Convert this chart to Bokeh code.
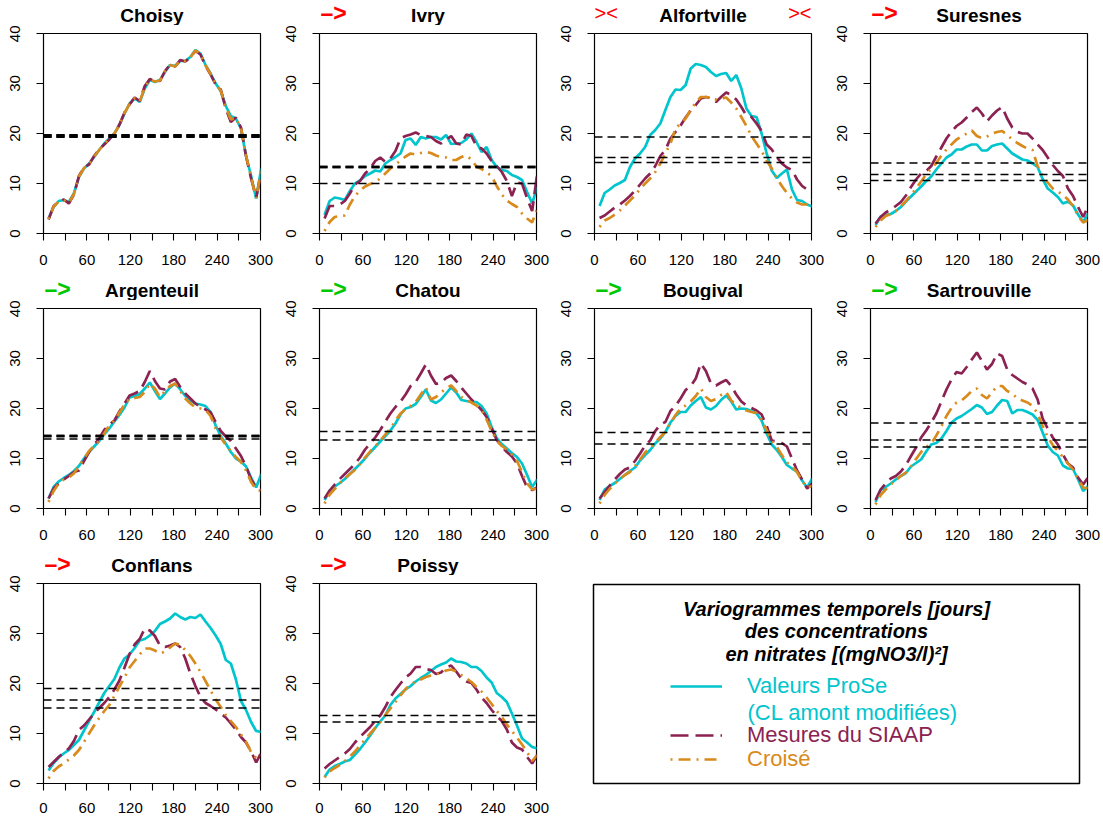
from bokeh.plotting import figure
from bokeh.layouts import row, column
from bokeh.models import Span, Label, FixedTicker, Range1d, Legend, LegendItem
from bokeh.embed import file_html
from bokeh.resources import INLINE

# ---------------- data ----------------
lags = [7, 14, 21, 28, 35, 42, 49, 56, 63, 70, 77, 84, 91, 98, 105, 112, 119, 126, 133, 140, 147,
        154, 161, 168, 175, 182, 189, 196, 203, 210, 217, 224, 231, 238, 245, 252, 259, 266, 273,
        280, 287, 294, 301]

stations = ["Choisy", "Ivry", "Alfortville", "Suresnes", "Argenteuil", "Chatou", "Bougival",
            "Sartrouville", "Conflans", "Poissy"]

choisy_prose = [3, 5.3, 6.5, 6.7, 6.3, 8, 11.3, 13, 14, 15.3, 16.7, 18, 19, 20, 21.7, 24, 26, 27, 26.3, 29,
                30.7, 30.3, 30.7, 32.3, 33.7, 33.5, 34.5, 34.5, 35.3, 36.7, 36, 33.7, 32, 30, 28.5, 25.5, 23.5, 23, 21, 15.5,
                11.5, 7, 13]
choisy_siaap = [2.8, 5.5, 6.3, 6.8, 6, 7.8, 11.5, 13.2, 13.8, 15.5, 16.8, 17.8, 18.8, 20, 21.8, 24.2, 25.8, 27.2, 26.5, 29.5,
                30.9, 30.5, 30.5, 32.5, 33.8, 33.4, 34.7, 34.4, 35.2, 36.5, 35.8, 33.5, 31.8, 29.8, 28.8, 25, 22.3, 23.2, 21.2, 15.5,
                11, 7.2, 12]
choisy_croise = [2.9, 5.4, 6.4, 6.7, 6.1, 7.9, 11.4, 13.1, 13.9, 15.4, 16.7, 17.9, 18.9, 20, 21.7, 24.1, 25.9, 27.1, 26.4, 29.2,
                 30.8, 30.4, 30.6, 32.4, 33.7, 33.4, 34.6, 34.5, 35.2, 36.6, 35.9, 33.6, 31.9, 29.9, 28.6, 25.2, 22.8, 23.1, 21.1, 15.6,
                 11.2, 7.1, 12.5]

ivry_prose = [3.7, 6.5, 7.2, 7, 6.7, 8.5, 10, 10.6, 11.5, 12, 12.6, 12.4, 14, 14.7, 15.3, 16, 18.7, 19, 17.7, 19.3,
              19, 19.3, 19.3, 18.8, 19.7, 17.9, 18, 18.1, 18.8, 20, 18.3, 16.3, 17.3, 14.7, 13.3, 12.7, 12.5, 11.7, 11.3, 10.7,
              8.3, 6, 9.3]
ivry_siaap = [3, 5.5, 5.5, 5.8, 6.5, 8, 9.8, 10.5, 12, 13, 14.5, 15.2, 14.3, 15, 16.5, 19, 19.5, 19.8, 20.2, 19.7,
              19.5, 19.3, 18.5, 18, 18.7, 19.5, 18, 17.8, 19.8, 19.5, 17.5, 17, 16, 14.5, 13.5, 12.3, 10.5, 7.5, 10.2, 10,
              7, 4.5, 12]
ivry_croise = [0.5, 2.3, 3.3, 3.5, 3.6, 5.8, 7.5, 8.6, 9.4, 9.9, 10.3, 11, 12, 13, 13.8, 14.6, 15.4, 16, 15.8, 16.1,
               16.3, 16.1, 15.6, 15.3, 15.2, 14.7, 14.7, 15.3, 15.6, 14.8, 13.4, 12.9, 12.2, 11.5, 9.5, 7.8, 6.6, 5.9, 5.3, 4,
               3, 2.2, 5]

alfortville_prose = [5.5, 8.1, 8.8, 9.6, 10.1, 10.7, 13.3, 15, 16, 17.3, 19.7, 20.7, 22, 24.7, 27.3, 28.8, 28.7, 29.7, 33, 33.9,
                     33.7, 33.3, 32.3, 31.5, 31.9, 32.1, 30.5, 31.7, 29, 25, 23.5, 23.3, 20, 16, 12.6, 11.1, 12, 12.8, 8.8, 6.7,
                     6.5, 5.8, 5.4]
alfortville_siaap = [3.1, 3.6, 4.4, 5.2, 5.8, 6.6, 7.5, 8.6, 9.8, 11, 12, 13.5, 15.5, 16.7, 19, 20.3, 21.6, 23.2, 24.6, 25.7,
                     27, 27.3, 27, 26.3, 27.3, 28.2, 27.7, 26.8, 25.3, 23.6, 23.3, 22, 20.5, 17.8, 16.8, 15.3, 14, 13.2, 12.7, 10.8,
                     9.5, 8.8, 8.6]
alfortville_croise = [1.3, 2.6, 3.1, 3.8, 4.6, 5.6, 6.6, 7.6, 8.9, 10, 11, 12.3, 14, 16, 18, 21, 22, 23, 24.7, 26.2,
                      27.3, 27.3, 27.1, 26.8, 27, 27.2, 26.2, 25, 23.3, 21.5, 19.5, 18, 16.5, 14.6, 13, 11.1, 9.5, 8.1, 7, 6.2,
                      5.8, 5.8, 6.7]

suresnes_prose = [1.7, 3.4, 3.7, 3.9, 4.5, 5.3, 6.4, 7.4, 8.4, 9.4, 10.5, 11.4, 12.8, 14, 15.2, 15.8, 16.8, 16.8, 17.4, 17.8,
                  17.8, 16.6, 16.6, 17.5, 17.8, 18, 17, 16, 15.4, 14.8, 14.6, 14, 13.3, 10.9, 9, 8.2, 7.3, 6, 6.4, 5.6,
                  3.8, 2.3, 4]
suresnes_siaap = [2, 3.3, 4.2, 4.8, 5.5, 6.3, 7.6, 9.3, 10.8, 12, 12.5, 13.5, 15.4, 17.2, 19, 20.4, 21.5, 22.2, 23.2, 24.3,
                  25.2, 24, 22.4, 23.6, 24.6, 25.3, 23, 21.2, 20.3, 20, 20, 19, 17.8, 16.7, 15.2, 13.7, 12.5, 11.5, 9, 7.5,
                  5.3, 3.3, 5.5]
suresnes_croise = [1.3, 2.6, 3.5, 3.9, 4.5, 5.5, 6.5, 7.7, 9, 10.4, 11.8, 13, 14.1, 15.6, 16.8, 17.8, 18.8, 19.4, 20, 20.6,
                   19.5, 19.1, 19.4, 20, 20.3, 20.5, 19.7, 18.8, 18.1, 17.5, 17, 16.7, 13.5, 11.5, 10.2, 9, 8.4, 7.7, 6.8, 5.5,
                   3.5, 2.2, 2.7]

argenteuil_prose = [2, 4.3, 5.4, 6.1, 6.7, 7.5, 8.5, 10, 11.3, 12.4, 13.5, 14.8, 16, 17.4, 18.7, 20.2, 22.2, 22.5, 22.9, 24,
                    25.2, 23.5, 21.9, 23, 24.2, 25, 23.8, 22.5, 21.6, 21, 20.8, 20.5, 19.3, 16.6, 14.5, 13, 11.3, 10, 9.4, 8.4,
                    6.2, 4.2, 6.9]
argenteuil_siaap = [2, 4, 5, 5.8, 6.5, 7.3, 7.6, 9.5, 11.3, 12.8, 14, 15.7, 16.8, 17.6, 19.4, 21, 22.6, 23, 23.5, 25.3,
                    27.5, 25.5, 24, 23.8, 25.4, 25.9, 24.3, 23, 22, 21, 20.3, 19.8, 19.2, 17.3, 15.5, 14.4, 13.5, 12, 10.5, 8.4,
                    5.8, 4.2, 3.8]
argenteuil_croise = [1.3, 3.5, 5, 5.8, 6.2, 7, 8.4, 10, 11.5, 12.5, 13.5, 15, 16.7, 17.6, 19.2, 20.8, 22, 22.1, 22.3, 23.3,
                     25, 24, 22.3, 23.5, 24.5, 25, 23.5, 22, 21, 20.2, 20, 19.7, 18.5, 16, 14.2, 12.7, 11.5, 10.3, 9.3, 7.6,
                     5.3, 3.8, 3.5]

chatou_prose = [1.7, 3.5, 4.4, 5.1, 5.9, 6.9, 7.9, 8.9, 10, 11.2, 12.3, 13.4, 14.5, 15.6, 17, 18.8, 20, 20.3, 20.9, 22.3,
                23.8, 21.6, 21.1, 21.8, 23, 24.2, 23.2, 21.7, 21.5, 21.3, 21.3, 20.5, 19, 16.3, 14.1, 12.9, 12, 11.1, 10.3, 9,
                6.7, 4.3, 5.8]
chatou_siaap = [2, 3.6, 4.8, 5.9, 6.9, 7.9, 8.9, 10.2, 11.8, 13, 14.2, 15.7, 17.4, 19, 20.3, 21.4, 22.8, 24.5, 25.3, 27,
                28.8, 26.6, 24.9, 25.2, 26.1, 26.6, 25.5, 24.2, 23, 21.8, 20.8, 19.7, 18.3, 16, 13.7, 12.4, 11.3, 10.4, 9, 6.5,
                4.2, 3.7, 4.2]
chatou_croise = [1, 2.8, 3.9, 5, 6, 6.9, 7.7, 8.9, 10.2, 11.4, 12.4, 13.6, 14.8, 16, 17.6, 19, 19.9, 20.5, 21.3, 22.8,
                 24.2, 21.8, 22.3, 23.2, 24, 24.6, 23.5, 22.3, 21.8, 21.2, 20.6, 19.7, 17.8, 15.5, 13.6, 12.5, 11.8, 10.8, 9.5, 7.3,
                 5, 3.8, 4]

bougival_prose = [1.7, 3.8, 4.5, 5.1, 5.9, 6.7, 7.5, 8.2, 9.6, 10.7, 11.7, 13, 14, 15.3, 17.2, 18.5, 19.3, 19.3, 20.6, 21.5,
                  22.3, 20.2, 19.8, 20.5, 21.7, 22.6, 21.4, 19.8, 20, 19.9, 19.5, 19, 17.6, 15, 12.8, 11.7, 10.3, 8.7, 8, 7.4,
                  5.6, 4.2, 6]
bougival_siaap = [2, 3.3, 4.6, 5.8, 6.9, 7.8, 8.2, 9.5, 11, 12.6, 13.6, 15.5, 16.8, 17.3, 19.5, 20.5, 22, 23.7, 24.5, 26,
                  29, 27.5, 25, 24.6, 25.2, 25.7, 24.5, 22.8, 21.4, 20.6, 20.1, 19.6, 18.8, 16.5, 13.6, 13.4, 13.1, 12.4, 10, 7.6,
                  5.8, 4, 5]
bougival_croise = [1, 2.7, 3.9, 5, 5.9, 6.7, 7.3, 8.5, 9.8, 11.2, 12.2, 13.2, 14.3, 15.3, 17, 18.7, 20, 20.6, 21.4, 22.5,
                   24, 22.3, 21.5, 21.9, 22.7, 23.3, 21.6, 20.7, 20.1, 19.6, 19.3, 19.1, 17.8, 15.7, 13.6, 12.3, 10.7, 9.2, 8.4, 7.3,
                   5.5, 4.2, 4.5]

sartrouville_prose = [1.3, 3.7, 4.3, 5, 5.8, 6.5, 7.1, 8.4, 9.1, 9.8, 11.4, 12.8, 13.1, 14, 15.5, 17.2, 18, 18.5, 19.2, 19.9,
                      20.7, 20.2, 18.9, 19.3, 20.6, 21.7, 21.5, 19, 19.7, 19.7, 19.3, 18.8, 17.7, 15.2, 12.6, 11.3, 10.6, 8.6, 8, 7.9,
                      5.8, 3.5, 4.5]
sartrouville_siaap = [1.7, 3.8, 5, 6, 6.5, 7.4, 8.7, 10.5, 12.2, 14.2, 15.6, 17.2, 19, 21.4, 23.8, 25.8, 27.3, 27, 28.3, 29.8,
                      31.2, 29.5, 27.8, 28.9, 31, 30.5, 27.8, 26.7, 26, 25.3, 24.8, 24, 21.8, 18, 16, 14.2, 12.8, 10.8, 9, 8.2,
                      6.2, 4.8, 6.3]
sartrouville_croise = [0.8, 2.7, 3.8, 4.8, 5.7, 6.5, 7.2, 8.4, 9.9, 11.3, 12.3, 13, 14.6, 16.4, 18.5, 20.1, 21.2, 21.6, 22.5, 23.5,
                       24, 22.7, 22, 23.2, 24.5, 24.5, 23.5, 23, 22, 21.6, 21.2, 20.5, 19, 16.5, 14.3, 12.7, 11.5, 10.3, 9, 7.8,
                       6, 4.2, 4]

conflans_prose = [2.6, 4.1, 5.2, 6, 6.7, 7.7, 8.7, 10.6, 12.5, 14.3, 16.2, 18.1, 19.5, 20.9, 23.2, 25, 25.8, 27.1, 28.6, 28.9,
                  29.6, 30.5, 31.9, 32.4, 33, 34, 33.3, 32.8, 33.3, 33.1, 33.8, 32.4, 31.1, 29.6, 27.9, 24.7, 24, 20.8, 16.5, 14.7,
                  12.3, 10.5, 10.3]
conflans_siaap = [3.3, 4.3, 5.3, 6.2, 7, 8.5, 10.7, 11.6, 12.8, 14, 15.1, 16.1, 17.3, 18.8, 20.6, 23.2, 25.9, 27.8, 28.9, 31,
                  30.6, 29.5, 27.6, 27.3, 27.6, 28, 27.3, 25, 22, 19.5, 17.3, 16.1, 15.5, 14.8, 14, 13.2, 12, 10.8, 9.3, 8.2,
                  6.4, 4.2, 6.2]
conflans_croise = [1, 2.5, 3.4, 4, 4.8, 5.6, 6.7, 8.3, 10, 11.6, 13.1, 14.5, 15.7, 17.5, 19.4, 21.2, 23.2, 24.5, 25.8, 27,
                   27, 26.6, 26, 26.4, 27.2, 28, 27.7, 26.7, 25.5, 24, 22.3, 20.5, 18.6, 16.8, 15.3, 13.7, 12.5, 11.3, 9.8, 8.3,
                   6.3, 5.1, 4.7]

poissy_prose = [1.3, 2.8, 3.5, 3.9, 4.4, 4.7, 5.8, 6.9, 8.2, 9.6, 11.1, 12.4, 13.6, 15.7, 17, 17.9, 18.8, 19.5, 20.4, 21.1,
                21.7, 22.5, 23.3, 23.8, 24.2, 25, 24.4, 24.3, 24, 23.3, 23.3, 22.5, 21.2, 20.2, 18.1, 17.3, 16.3, 14, 11.6, 9,
                8.2, 7.3, 7]
poissy_siaap = [3, 3.9, 4.6, 5.3, 6, 6.9, 8.2, 9.3, 10.3, 11.3, 12.5, 13.6, 15.3, 17.3, 18.7, 20, 21.2, 22, 23.3, 23.3,
                22.9, 22.7, 21.9, 22.2, 23.2, 23.6, 22.4, 21, 20.4, 20.1, 18.8, 17.2, 16.1, 14.7, 13.5, 12.5, 10.8, 8.2, 7.2, 6.8,
                5.3, 4, 5.7]
poissy_croise = [1.2, 2.4, 3.1, 3.7, 4.5, 5.4, 6.4, 7.6, 8.8, 10, 11.1, 12.3, 13.7, 15, 16.3, 17.6, 18.9, 19.8, 20.4, 20.8,
                 21.3, 21.6, 21.8, 22.2, 22.6, 22.8, 22.4, 21.7, 21, 20.3, 19.3, 18.4, 17.2, 15.9, 14.5, 13.3, 11.8, 10.5, 9.2, 7.8,
                 6.3, 4.5, 5.7]

# variances (horizontal dashed reference lines)
sill_choisy = [19.5, 19.5, 19.5]
sill_ivry = [13.3, 13.3, 10.0]
sill_alfortville = [19.3, 15.2, 14.2]
sill_suresnes = [14.1, 11.8, 10.6]
sill_argenteuil = [14.5, 14.5, 13.9]
sill_chatou = [15.4, 13.7]
sill_bougival = [15.2, 12.9]
sill_sartrouville = [17.1, 13.7, 12.3]
sill_conflans = [19.0, 16.7, 15.1]
sill_poissy = [13.6, 12.3]

arrow_text = ["", "\u2013>", "><", "\u2013>", "\u2013>", "\u2013>", "\u2013>", "\u2013>", "\u2013>", "\u2013>"]
arrow_color = ["red", "red", "red", "red", "#00C800", "#00C800", "#00C800", "#00C800", "red", "red"]

x_ticks = [0, 30, 60, 90, 120, 150, 180, 210, 240, 270, 300]
x_labels = ["0", "", "60", "", "120", "", "180", "", "240", "", "300"]
y_ticks = [0, 10, 20, 30, 40]

legend_title = ["Variogrammes temporels [jours]", "des concentrations", "en nitrates [(mgNO3/l)\u00b2]"]
legend_labels = ["Valeurs ProSe", "(CL amont modifi\u00e9es)", "Mesures du SIAAP", "Crois\u00e9"]

# ---------------- styling ----------------
FONT = "Liberation Sans"
C_PROSE = "#00C5CD"
C_SIAAP = "#8B2252"
C_CROISE = "#D98A1C"
DASH_SIAAP = "18 7"
DASH_CROISE = "2 6 12 6"
LW = 2.7
NAN = float("nan")

series = {
    "Choisy": (choisy_prose, choisy_siaap, choisy_croise, sill_choisy),
    "Ivry": (ivry_prose, ivry_siaap, ivry_croise, sill_ivry),
    "Alfortville": (alfortville_prose, alfortville_siaap, alfortville_croise, sill_alfortville),
    "Suresnes": (suresnes_prose, suresnes_siaap, suresnes_croise, sill_suresnes),
    "Argenteuil": (argenteuil_prose, argenteuil_siaap, argenteuil_croise, sill_argenteuil),
    "Chatou": (chatou_prose, chatou_siaap, chatou_croise, sill_chatou),
    "Bougival": (bougival_prose, bougival_siaap, bougival_croise, sill_bougival),
    "Sartrouville": (sartrouville_prose, sartrouville_siaap, sartrouville_croise, sill_sartrouville),
    "Conflans": (conflans_prose, conflans_siaap, conflans_croise, sill_conflans),
    "Poissy": (poissy_prose, poissy_siaap, poissy_croise, sill_poissy),
}

# (width, min_border_left, min_border_right) per column
col_geo = [(278, 43, 18), (275, 41, 17), (276, 41, 18), (274, 41, 16)]
# (header height, panel height, min_border_bottom, x label standoff, title y, arrow y) per row
row_geo = [(25, 250, 42, 14, 10, 12.5), (25, 250, 42, 14, 10, 12), (25, 245, 37, 12, 10, 12)]


def make_header(i):
    w, bl, br = col_geo[i % 4]
    hh, ph, bb, xs, ty, ay = row_geo[i // 4]
    hd = figure(width=w, height=hh, x_range=Range1d(0, 300), y_range=Range1d(0, hh),
                output_backend="svg", toolbar_location=None,
                min_border_left=bl, min_border_right=br, min_border_top=0, min_border_bottom=0)
    hd.axis.visible = False
    hd.xgrid.visible = False
    hd.ygrid.visible = False
    hd.outline_line_color = None
    hd.add_layout(Label(x=150, y=ty, text=stations[i], text_align="center",
                        text_baseline="middle", text_font=FONT, text_font_size="19px",
                        text_font_style="bold", text_color="black"))
    if arrow_text[i] == "><":
        for xa, al in ((0, "left"), (300, "right")):
            hd.add_layout(Label(x=xa, y=ay, text=arrow_text[i], text_align=al,
                                text_baseline="middle", text_font=FONT, text_font_size="20px",
                                text_color=arrow_color[i]))
    elif arrow_text[i]:
        hd.add_layout(Label(x=0, y=ay, x_offset=1, text=arrow_text[i], text_align="left",
                            text_baseline="middle", text_font=FONT, text_font_size="23px",
                            text_font_style="bold", text_color=arrow_color[i]))
    return hd


def make_panel(i):
    name = stations[i]
    prose, siaap, croise, sills = series[name]
    w, bl, br = col_geo[i % 4]
    hh, ph, bb, xs, ty, ay = row_geo[i // 4]
    p = figure(width=w, height=ph, x_range=Range1d(0, 300), y_range=Range1d(0, 40),
               output_backend="svg", toolbar_location=None,
               min_border_left=bl, min_border_right=br, min_border_top=8, min_border_bottom=bb)
    p.xgrid.visible = False
    p.ygrid.visible = False
    p.outline_line_color = "black"
    p.outline_line_width = 1.2
    p.outline_line_alpha = 1.0
    for ax in (p.xaxis[0], p.yaxis[0]):
        ax.axis_line_color = None
        ax.major_tick_out = 7
        ax.major_tick_in = 0
        ax.minor_tick_out = 0
        ax.minor_tick_in = 0
        ax.major_tick_line_color = "black"
        ax.major_tick_line_width = 1.1
        ax.major_label_text_font = FONT
        ax.major_label_text_font_size = "15px"
        ax.major_label_text_color = "black"
    p.xaxis[0].ticker = FixedTicker(ticks=x_ticks)
    p.xaxis[0].major_label_overrides = {t: l for t, l in zip(x_ticks, x_labels)}
    p.xaxis[0].major_label_standoff = xs
    p.yaxis[0].ticker = FixedTicker(ticks=y_ticks)
    p.yaxis[0].major_label_orientation = "vertical"
    p.yaxis[0].major_label_standoff = 17

    for s in sills:
        n = sum(1 for t in sills if abs(t - s) < 0.2)
        p.add_layout(Span(location=s, dimension="width", line_color="black",
                          line_dash="8 5", line_width=1.3 + 1.1 * (n - 1)))

    p.line(lags, prose, line_color=C_PROSE, line_width=LW)
    p.line(lags, siaap, line_color=C_SIAAP, line_width=LW, line_dash=DASH_SIAAP)
    p.line(lags, croise, line_color=C_CROISE, line_width=LW, line_dash=DASH_CROISE)
    return p


cells = [column(make_header(i), make_panel(i)) for i in range(len(stations))]

# ---------------- legend panel ----------------
lg = figure(width=550, height=270, x_range=Range1d(0, 486), y_range=Range1d(0, 199),
            output_backend="svg", toolbar_location=None,
            min_border_left=40, min_border_right=24, min_border_top=34, min_border_bottom=37)
lg.xaxis.visible = False
lg.yaxis.visible = False
lg.xgrid.visible = False
lg.ygrid.visible = False
lg.outline_line_color = "black"
lg.outline_line_width = 1.5
lg.outline_line_alpha = 1.0

for txt, yy in zip(legend_title, (175, 153, 130)):
    lg.add_layout(Label(x=243, y=yy, text=txt, text_align="center", text_baseline="middle",
                        text_font=FONT, text_font_size="20px", text_font_style="bold italic",
                        text_color="black"))

r_prose = lg.line(x=[NAN], y=[NAN], line_color=C_PROSE, line_width=LW)
r_siaap = lg.line(x=[NAN], y=[NAN], line_color=C_SIAAP, line_width=LW, line_dash=DASH_SIAAP)
r_croise = lg.line(x=[NAN], y=[NAN], line_color=C_CROISE, line_width=LW, line_dash=DASH_CROISE)

for rend, lab, col, ybot in ((r_prose, legend_labels[0], C_PROSE, 84),
                             (r_siaap, legend_labels[2], C_SIAAP, 35),
                             (r_croise, legend_labels[3], C_CROISE, 11)):
    leg = Legend(items=[LegendItem(label=lab, renderers=[rend])], location=(77, ybot),
                 glyph_width=52, glyph_height=24, label_height=24, label_standoff=25,
                 label_text_font=FONT, label_text_font_size="22px", label_text_color=col,
                 border_line_color=None, background_fill_alpha=0, padding=0, margin=0, spacing=0)
    lg.add_layout(leg)

lg.add_layout(Label(x=154, y=71, text=legend_labels[1], text_align="left", text_baseline="middle",
                    text_font=FONT, text_font_size="22px", text_color=C_PROSE))

layout = column(row(*cells[0:4]), row(*cells[4:8]), row(cells[8], cells[9], lg))

open("out.html", "w").write(file_html(layout, INLINE))
